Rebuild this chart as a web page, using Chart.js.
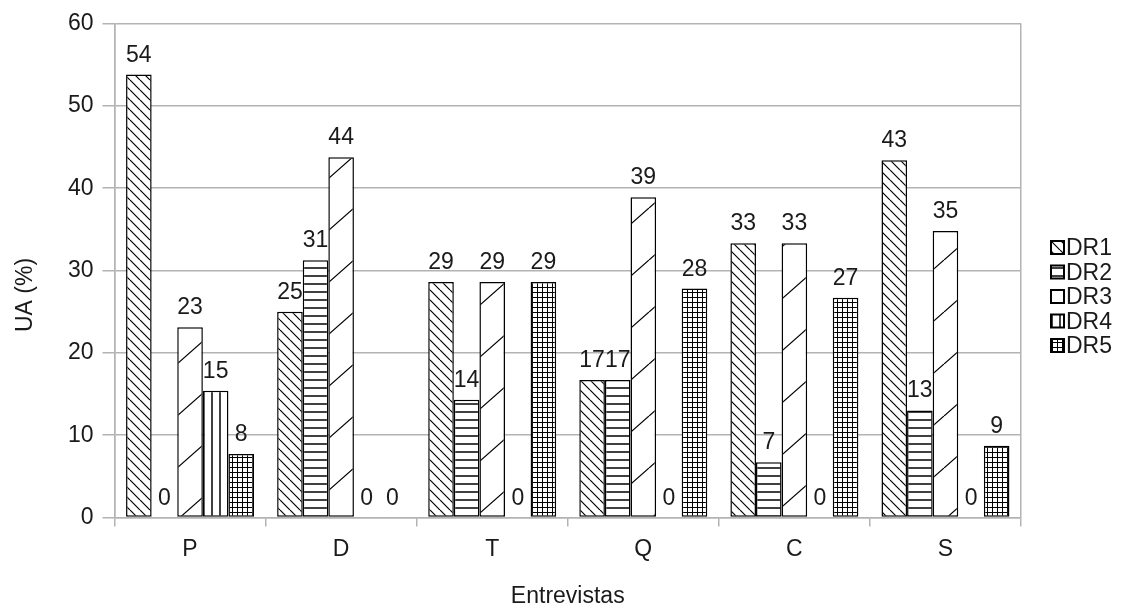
<!DOCTYPE html>
<html>
<head>
<meta charset="utf-8">
<script src="https://cdn.jsdelivr.net/npm/chart.js@4.4.1/dist/chart.umd.min.js"></script>
<style>
  html, body { margin: 0; padding: 0; background: #fff; }
  #grafico { display: block; }
</style>
</head>
<body>
<canvas id="grafico" width="1125" height="607"></canvas>
<script>
// dados
const categorias = ['P', 'D', 'T', 'Q', 'C', 'S'];
const rotulosSeries = ['DR1', 'DR2', 'DR3', 'DR4', 'DR5'];
const dr1 = [53.8, 25.0, 28.6, 16.7, 33.3, 43.4];
const dr2 = [0, 31.25, 14.3, 16.7, 6.7, 13.0];
const dr3 = [23.1, 43.75, 28.6, 38.9, 33.3, 34.8];
const dr4 = [15.4, 0, 0, 0, 0, 0];
const dr5 = [7.7, 0, 28.6, 27.8, 26.7, 8.7];
const ticksY = [0, 10, 20, 30, 40, 50, 60];

const corTexto = '#1a1a1a';
const corGrade = '#b3b3b3';
const fonte = 'Liberation Sans, Arial, sans-serif';

// hachuras no estilo do LibreOffice
function hachura(tipo) {
    const c = document.createElement('canvas');
    const g = c.getContext('2d');
    let w = 10, h = 10;
    if (tipo === 'horiz' || tipo === 'vert') { w = 8; h = 8; }
    if (tipo === 'grade') { w = 5; h = 5; }
    if (tipo === 'barra') { w = 59; h = 52; }
    c.width = w; c.height = h;
    g.fillStyle = '#fff';
    g.fillRect(0, 0, w, h);
    g.strokeStyle = '#000';
    g.lineWidth = 1.2;
    g.beginPath();
    if (tipo === 'contra') {
        for (const o of [-w, 0, w]) { g.moveTo(o, 0); g.lineTo(o + w, h); }
    } else if (tipo === 'barra') {
        for (const o of [-w, 0, w]) { g.moveTo(o, h); g.lineTo(o + w, 0); }
    } else if (tipo === 'horiz') {
        g.lineWidth = 1.5;
        g.moveTo(0, 4); g.lineTo(w, 4);
    } else if (tipo === 'vert') {
        g.lineWidth = 1.5;
        g.moveTo(4, 0); g.lineTo(4, h);
    } else if (tipo === 'grade') {
        g.lineWidth = 1;
        g.moveTo(0, 2.5); g.lineTo(w, 2.5);
        g.moveTo(2.5, 0); g.lineTo(2.5, h);
    }
    g.stroke();
    return g.createPattern(c, 'repeat');
}

const padroes = [hachura('contra'), hachura('horiz'), hachura('barra'), hachura('vert'), hachura('grade')];
const valores = [dr1, dr2, dr3, dr4, dr5];

// rótulos de valor acima das barras
const rotulosValor = {
    id: 'rotulosValor',
    afterDatasetsDraw(chart) {
        const ctx = chart.ctx;
        ctx.save();
        ctx.font = '23px ' + fonte;
        ctx.fillStyle = corTexto;
        ctx.textAlign = 'center';
        ctx.textBaseline = 'alphabetic';
        chart.data.datasets.forEach((ds, i) => {
            chart.getDatasetMeta(i).data.forEach((bar, j) => {
                ctx.fillText(String(Math.round(ds.data[j])), bar.x, bar.y - 13);
            });
        });
        ctx.restore();
    }
};

// título do eixo Y (um pouco abaixo do centro, como no original)
const tituloY = {
    id: 'tituloY',
    afterDraw(chart) {
        const ctx = chart.ctx;
        ctx.save();
        ctx.translate(26, 295);
        ctx.rotate(-Math.PI / 2);
        ctx.font = '23px ' + fonte;
        ctx.fillStyle = corTexto;
        ctx.textAlign = 'center';
        ctx.textBaseline = 'middle';
        ctx.fillText('UA (%)', 0, 0);
        ctx.restore();
    }
};

// legenda à direita
const legenda = {
    id: 'legenda',
    afterDraw(chart) {
        const ctx = chart.ctx;
        const x = chart.chartArea.right + 30;
        let y = 248;
        ctx.save();
        ctx.font = '23px ' + fonte;
        ctx.textBaseline = 'middle';
        chart.data.datasets.forEach(ds => {
            ctx.fillStyle = ds.backgroundColor;
            ctx.fillRect(x, y - 7, 13, 13);
            ctx.strokeStyle = '#000';
            ctx.lineWidth = 2;
            ctx.strokeRect(x, y - 7, 13, 13);
            ctx.fillStyle = corTexto;
            ctx.fillText(ds.label, x + 15, y + 1);
            y += 24.5;
        });
        ctx.restore();
    }
};

const ctx = document.getElementById('grafico').getContext('2d');
const chart = new Chart(ctx, {
    type: 'bar',
    data: {
        labels: categorias,
        datasets: rotulosSeries.map((nome, i) => ({
            label: nome,
            data: valores[i],
            backgroundColor: padroes[i],
            borderColor: '#000',
            borderWidth: 1.5,
            borderSkipped: false,
            categoryPercentage: 0.847,
            barPercentage: 1.0
        }))
    },
    options: {
        responsive: false,
        animation: false,
        devicePixelRatio: 1,
        layout: { padding: { top: 23.5, right: 104, bottom: 0, left: 0 } },
        plugins: {
            legend: { display: false },
            tooltip: { enabled: false }
        },
        scales: {
            x: {
                grid: {
                    offset: true,
                    color: c => (c.type !== 'tick' || c.index === 0) ? corGrade : 'rgba(0,0,0,0)',
                    tickColor: corGrade,
                    lineWidth: 1.5,
                    tickLength: 9
                },
                border: { color: corGrade, width: 1.5 },
                ticks: { color: corTexto, font: { family: fonte, size: 23 }, padding: 9 },
                title: {
                    display: true,
                    text: 'Entrevistas',
                    color: corTexto,
                    font: { family: fonte, size: 23, lineHeight: 0.9 },
                    padding: { top: 0, bottom: 0 }
                },
                afterFit: s => { s.height = 89.5; }
            },
            y: {
                min: 0,
                max: 60,
                afterBuildTicks: s => { s.ticks = ticksY.map(v => ({ value: v })); },
                grid: { color: corGrade, lineWidth: 1.5, tickLength: 12 },
                border: { color: corGrade, width: 1.5 },
                ticks: { color: corTexto, font: { family: fonte, size: 23 }, padding: 9 },
                title: { display: false },
                afterFit: s => { s.width = 114.5; }
            }
        }
    },
    plugins: [rotulosValor, tituloY, legenda]
});
</script>
</body>
</html>
